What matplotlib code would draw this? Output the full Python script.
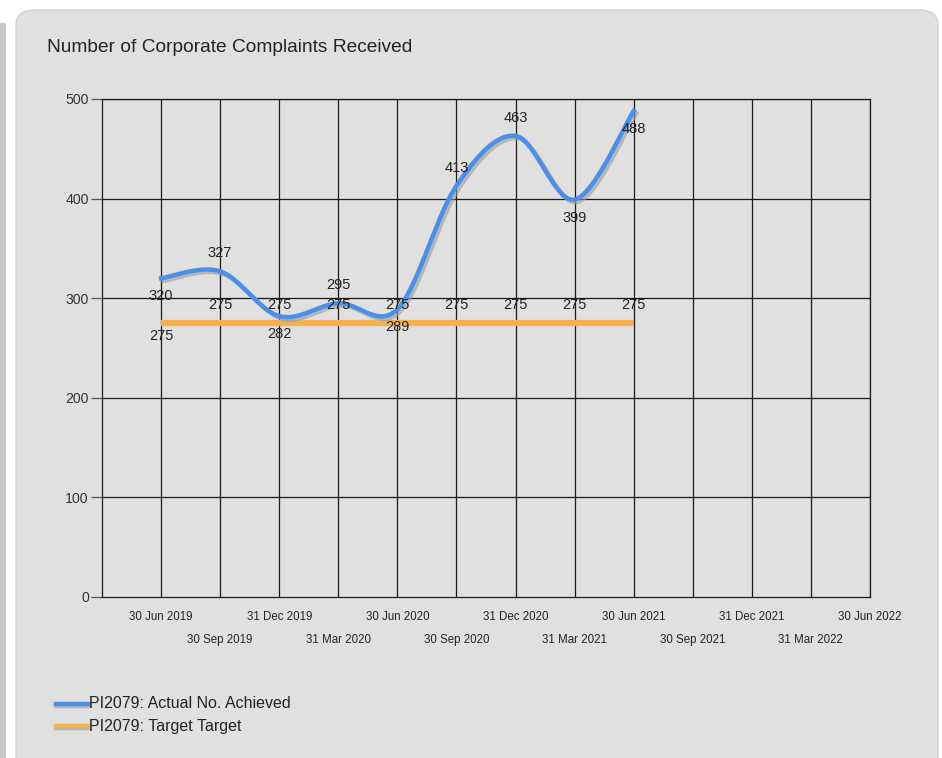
import numpy as np
import matplotlib
matplotlib.use("Agg")
import matplotlib.pyplot as plt
import matplotlib.patheffects as pe
from matplotlib.patches import FancyBboxPatch
from matplotlib.lines import Line2D

# ---- data ----
quarters = ["31 Mar 2019", "30 Jun 2019", "30 Sep 2019", "31 Dec 2019", "31 Mar 2020",
            "30 Jun 2020", "30 Sep 2020", "31 Dec 2020", "31 Mar 2021", "30 Jun 2021",
            "30 Sep 2021", "31 Dec 2021", "31 Mar 2022", "30 Jun 2022"]
actual_quarters = ["30 Jun 2019", "30 Sep 2019", "31 Dec 2019", "31 Mar 2020", "30 Jun 2020",
                   "30 Sep 2020", "31 Dec 2020", "31 Mar 2021", "30 Jun 2021"]
actual = [320, 327, 282, 295, 289, 413, 463, 399, 488]
target = [275, 275, 275, 275, 275, 275, 275, 275, 275]
y_ticks = [0, 100, 200, 300, 400, 500]

# label placement: +1 above the point, -1 below
actual_side = [-1, 1, -1, 1, -1, 1, 1, -1, -1]
target_side = [-1, 1, 1, 1, 1, 1, 1, 1, 1]

BLUE = "#4b8fe9"
ORANGE = "#f3b24f"
PANEL = "#e0e0e0"
TEXT = "#222222"


def catmull_rom(x, y, n=40, tension=0.5):
    x = np.asarray(x, float)
    y = np.asarray(y, float)
    px = np.concatenate([[x[0]], x, [x[-1]]])
    py = np.concatenate([[y[0]], y, [y[-1]]])
    xs, ys = [], []
    t = np.linspace(0, 1, n)
    h00 = 2 * t**3 - 3 * t**2 + 1
    h10 = t**3 - 2 * t**2 + t
    h01 = -2 * t**3 + 3 * t**2
    h11 = t**3 - t**2
    for i in range(1, len(px) - 2):
        mx0 = tension * (px[i + 1] - px[i - 1])
        my0 = tension * (py[i + 1] - py[i - 1])
        mx1 = tension * (px[i + 2] - px[i])
        my1 = tension * (py[i + 2] - py[i])
        xs.append(h00 * px[i] + h10 * mx0 + h01 * px[i + 1] + h11 * mx1)
        ys.append(h00 * py[i] + h10 * my0 + h01 * py[i + 1] + h11 * my1)
    return np.concatenate(xs), np.concatenate(ys)


W, H = 942, 758
fig = plt.figure(figsize=(W / 100, H / 100), dpi=100)
fig.patch.set_facecolor("white")

# background panel
panel = FancyBboxPatch((16 / W, -20 / H), (922 / W), (768 / H),
                       boxstyle="round,pad=0,rounding_size=0.02",
                       transform=fig.transFigure, facecolor=PANEL,
                       edgecolor="#d2d2d2", linewidth=1.0, zorder=-5)
fig.patches.append(panel)
fig.patches.append(plt.Rectangle((0, 0), 6 / W, 735 / H, transform=fig.transFigure,
                                 facecolor="#c9c9c9", edgecolor="none", zorder=-5))

ax = fig.add_axes([102 / W, 1 - 597 / H, 768 / W, 498 / H])
ax.set_zorder(2)
ax.set_facecolor(PANEL)

xpos = {q: i for i, q in enumerate(quarters)}
ax_x = np.array([xpos[q] for q in actual_quarters], float)

ax.set_xlim(0, len(quarters) - 1)
ax.set_ylim(0, 500)

# grid
for i in range(1, len(quarters)):
    ax.axvline(i, color="#1a1a1a", lw=0.9, zorder=1)
for v in y_ticks[1:]:
    ax.axhline(v, color="#1a1a1a", lw=0.9, zorder=1)
for s in ax.spines.values():
    s.set_color("#1a1a1a")
    s.set_linewidth(0.9)

ax.set_yticks(y_ticks)
ax.set_yticklabels([str(v) for v in y_ticks], fontsize=10.2, color="#333333",
                   family=["Liberation Sans"])
ax.tick_params(axis="y", length=8, width=0.9, color="#555555", pad=1.5)

ticks = list(range(1, len(quarters)))
labels = []
for k, i in enumerate(ticks):
    labels.append(quarters[i] if k % 2 == 0 else "\n" + quarters[i])
ax.set_xticks(ticks)
ax.set_xticklabels(labels, fontsize=8.3, color=TEXT,
                   family=["Liberation Sans Narrow", "Liberation Sans"],
                   linespacing=2.25)
ax.tick_params(axis="x", length=0, pad=10)

# target line
ax.plot(ax_x, target, color=ORANGE, lw=4.5, solid_capstyle="butt", zorder=3)

# actual smoothed line with shadow
sx, sy = catmull_rom(ax_x, actual)
ax.plot(sx, sy, color=BLUE, lw=3.2, zorder=4,
        path_effects=[pe.SimpleLineShadow(offset=(1.8, -1.8), shadow_color="#9a9a9a", alpha=0.6),
                      pe.Normal()])

lab_font = dict(fontsize=10.5, color=TEXT, family=["Liberation Sans Narrow", "Liberation Sans"],
                ha="center", va="center", zorder=6)
for x, v, s in zip(ax_x, actual, actual_side):
    ax.annotate(str(v), (x, v), xytext=(0, 13 * s), textcoords="offset points", **lab_font)
for x, v, s in zip(ax_x, target, target_side):
    ax.annotate(str(v), (x, v), xytext=(0, 13 * s if s > 0 else -9), textcoords="offset points",
                **lab_font)

fig.text(47 / W, 1 - 48 / H, "Number of Corporate Complaints Received", fontsize=13.8,
         color=TEXT, family=["Liberation Sans"], ha="left", va="center")

# legend
leg_items = [(BLUE, "PI2079: Actual No. Achieved", 704), (ORANGE, "PI2079: Target Target", 726)]
for col, txt, yy in leg_items:
    ln = Line2D([56 / W, 88 / W], [1 - yy / H, 1 - yy / H], transform=fig.transFigure,
                color=col, lw=3.2,
                path_effects=[pe.SimpleLineShadow(offset=(0, -1.5), shadow_color="#9a9a9a", alpha=0.6),
                              pe.Normal()])
    fig.lines.append(ln)
    fig.text(89 / W, 1 - yy / H, txt, fontsize=11.5, color=TEXT,
             family=["Liberation Sans"], ha="left", va="center")

fig.savefig("out.png", dpi=100, facecolor=fig.get_facecolor())
